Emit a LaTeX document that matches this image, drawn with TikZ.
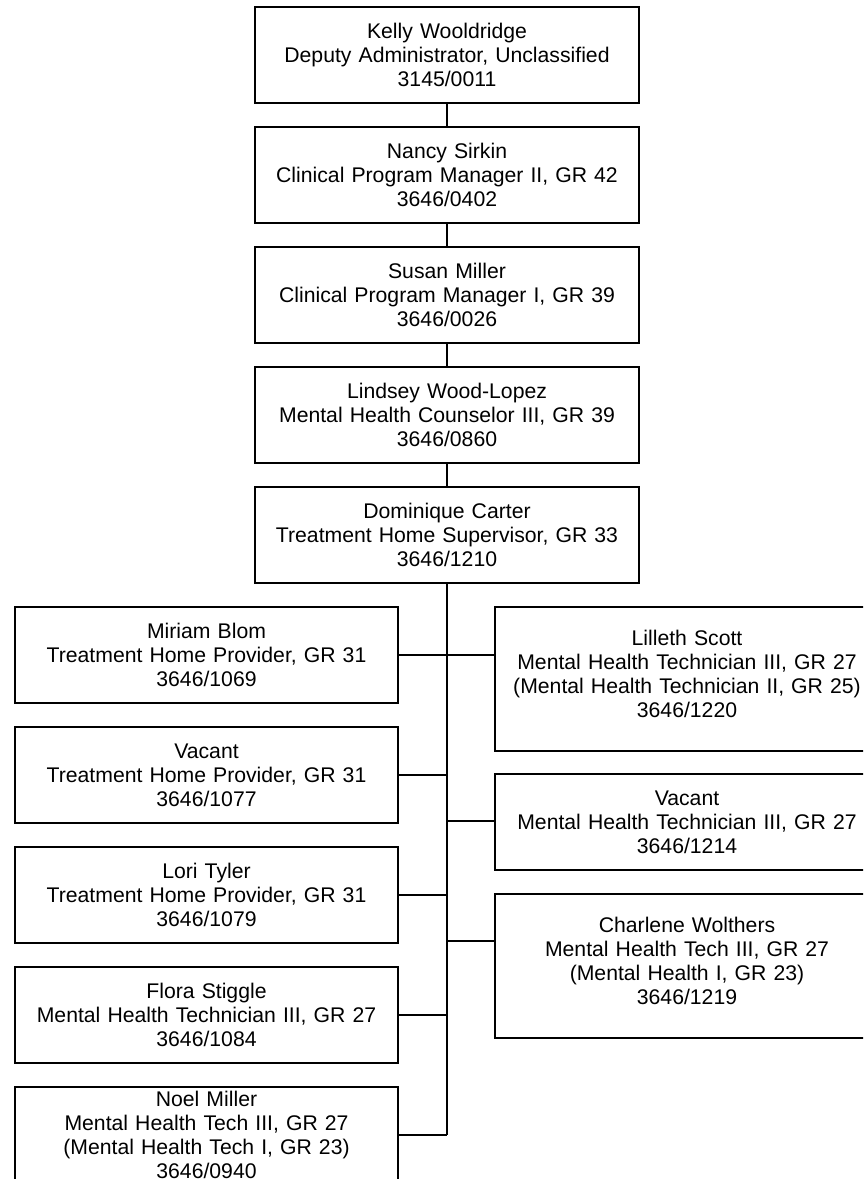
\documentclass[tikz,border=0pt]{standalone}
\usepackage{fontspec}
\setmainfont{Liberation Sans}
\begin{document}
\begin{tikzpicture}[x=1pt,y=-1pt,
  box/.style={draw=black, line width=1.8pt, rectangle, inner sep=0pt,
    align=center, text width=384pt, minimum height=96pt,
    font=\fontsize{21.2}{24}\selectfont},
  tallbox/.style={draw=black, line width=1.8pt, rectangle, inner sep=0pt,
    minimum width=384pt, minimum height=144pt},
  boxtext/.style={inner sep=0pt, align=center, text width=384pt,
    font=\fontsize{21.2}{24}\selectfont},
  conn/.style={draw=black, line width=1.8pt}]
\path[use as bounding box, clip] (0,0) rectangle (863,1179);
% central column
\node[box] (kelly) at (447,55) {Kelly Wooldridge\\Deputy Administrator, Unclassified\\3145/0011};
\node[box] (nancy) at (447,175) {Nancy Sirkin\\Clinical Program Manager II, GR 42\\3646/0402};
\node[box] (susan) at (447,295) {Susan Miller\\Clinical Program Manager I, GR 39\\3646/0026};
\node[box] (lindsey) at (447,415) {Lindsey Wood-Lopez\\Mental Health Counselor III, GR 39\\3646/0860};
\node[box] (dom) at (447,535) {Dominique Carter\\Treatment Home Supervisor, GR 33\\3646/1210};
% left column
\node[box, text width=383pt] (miriam) at (206.5,655) {Miriam Blom\\Treatment Home Provider, GR 31\\3646/1069};
\node[box, text width=383pt] (vacl) at (206.5,775) {Vacant\\Treatment Home Provider, GR 31\\3646/1077};
\node[box, text width=383pt] (lori) at (206.5,895) {Lori Tyler\\Treatment Home Provider, GR 31\\3646/1079};
\node[box, text width=383pt] (flora) at (206.5,1015) {Flora Stiggle\\Mental Health Technician III, GR 27\\3646/1084};
\node[box, text width=383pt] (noel) at (206.5,1135) {Noel Miller\\Mental Health Tech III, GR 27\\(Mental Health Tech I, GR 23)\\3646/0940};
% right column
\node[tallbox] (lilleth) at (687,679) {};
\node[boxtext] (lillethT) at (687,674) {Lilleth Scott\\Mental Health Technician III, GR 27\\(Mental Health Technician II, GR 25)\\3646/1220};
\node[box] (vacr) at (687,822) {Vacant\\Mental Health Technician III, GR 27\\3646/1214};
\node[tallbox] (charlene) at (687,966) {};
\node[boxtext] (charleneT) at (687,961) {Charlene Wolthers\\Mental Health Tech III, GR 27\\(Mental Health I, GR 23)\\3646/1219};
% connectors
\draw[conn] (kelly) -- (nancy);
\draw[conn] (nancy) -- (susan);
\draw[conn] (susan) -- (lindsey);
\draw[conn] (lindsey) -- (dom);
\coordinate (spine) at (447,1135);
\draw[conn] (dom.south) -- (spine);
\draw[conn] (miriam.east) -- (miriam.east -| dom.south);
\draw[conn] (vacl.east) -- (vacl.east -| dom.south);
\draw[conn] (lori.east) -- (lori.east -| dom.south);
\draw[conn] (flora.east) -- (flora.east -| dom.south);
\draw[conn] (noel.east) -- (noel.east -| dom.south);
\coordinate (lilJ) at ([yshift=-49pt]lilleth.north west);
\coordinate (vacJ) at ([yshift=-48pt]vacr.north west);
\coordinate (chaJ) at ([yshift=-48pt]charlene.north west);
\draw[conn] (lilJ) -- (lilJ -| dom.south);
\draw[conn] (vacJ) -- (vacJ -| dom.south);
\draw[conn] (chaJ) -- (chaJ -| dom.south);
\end{tikzpicture}
\end{document}
